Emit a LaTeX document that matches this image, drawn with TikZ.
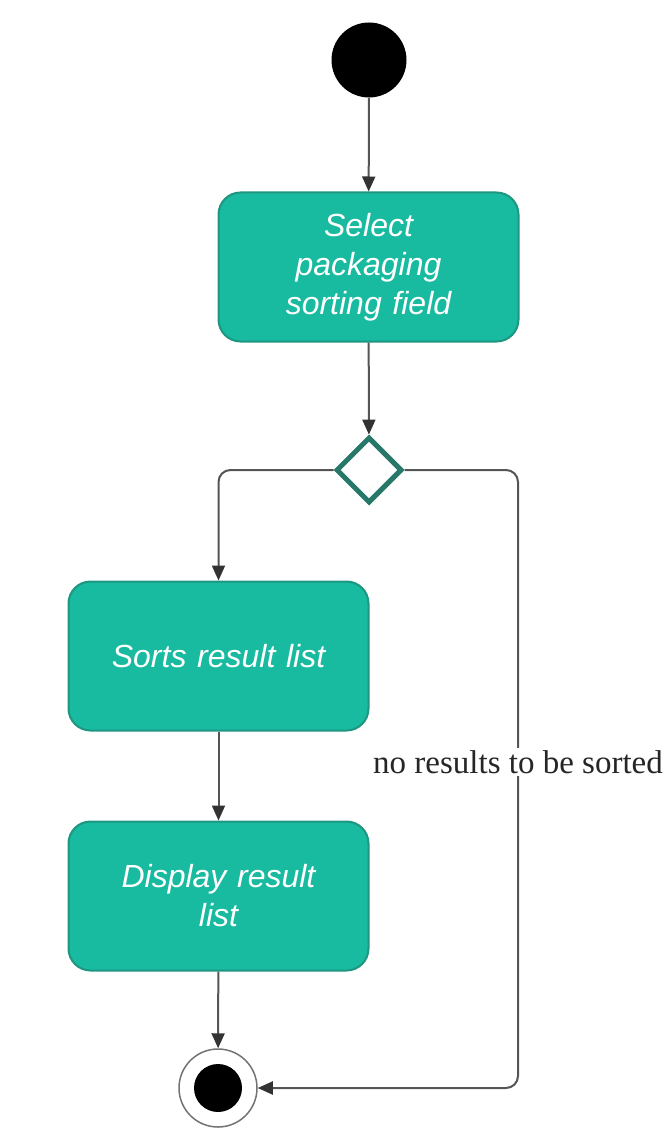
\documentclass[tikz,border=0pt]{standalone}
\usepackage{fontspec}
\setmainfont{Liberation Serif}
\setsansfont{Liberation Sans}
\usetikzlibrary{arrows.meta,shapes.geometric}
\definecolor{actfill}{RGB}{24,186,160}
\definecolor{actedge}{RGB}{30,150,130}
\definecolor{decedge}{RGB}{40,120,105}
\definecolor{flowgray}{RGB}{85,85,85}
\begin{document}
\begin{tikzpicture}[x=1pt,y=-1pt,
  activity/.style={draw=actedge, fill=actfill, line width=2pt,
    rounded corners=22pt, minimum width=300pt, minimum height=149pt,
    text width=280pt, align=center, text=white,
    font=\sffamily\itshape\fontsize{32}{39}\selectfont},
  initnode/.style={circle, fill=black, minimum size=75pt, inner sep=0pt},
  decision/.style={diamond, draw=decedge, fill=white, line width=5pt,
    minimum width=66pt, minimum height=66pt, inner sep=0pt},
  flow/.style={draw=flowgray, line width=2pt,
    -{Triangle[length=15pt,width=13pt,color=black!80]}},
  guard/.style={fill=white, inner sep=2pt, text=black!85,
    font=\rmfamily\fontsize{33}{35}\selectfont}
]
\useasboundingbox (0,0) rectangle (670,1131);

% activity nodes
\node[initnode] (start) at (369,60) {};
\node[activity] (select) at (368.5,267) {Select\\packaging\\sorting field};
\node[decision] (choice) at (369,470) {};
\node[activity] (sort) at (218.5,656) {Sorts result list};
\node[activity] (display) at (218.5,896) {Display result\\list};

% final node: ring with a filled dot
\node[circle, draw=black!55, line width=1.5pt, minimum size=78pt, inner sep=0pt, fill=white] (final) at (218,1088) {};
\node[circle, fill=black, minimum size=48pt, inner sep=0pt] (finaldot) at (final.center) {};

% control flows
\draw[flow] (start) -- (select);
\draw[flow] (select) -- (choice);
\draw[flow, rounded corners=12pt] (choice.west) -| (sort.north);
\draw[flow] (sort) -- (display);
\draw[flow] (display) -- (final);
\coordinate (bend) at (518,1088);
\draw[flow, rounded corners=12pt] (choice.east) -| (bend) -- (final.east);

% guard on the bypass branch
\node[guard] (nores) at (518,762) {no results to be sorted};
\end{tikzpicture}
\end{document}
